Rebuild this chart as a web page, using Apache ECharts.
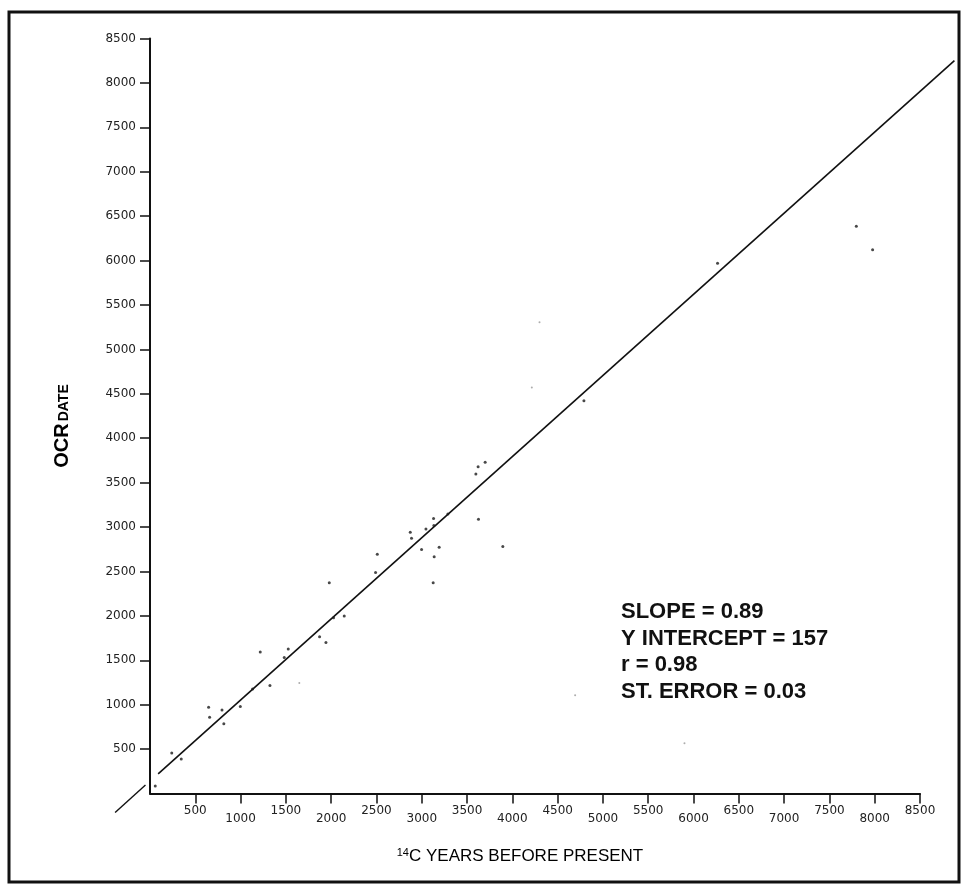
<!DOCTYPE html>
<html>
<head>
<meta charset="utf-8">
<script src="https://cdn.jsdelivr.net/npm/echarts@6/dist/echarts.min.js"></script>
<style>
html, body { margin: 0; padding: 0; background: #fff; }
#chart { width: 962px; height: 886px; }
</style>
</head>
<body>
<div id="chart"></div>
<script>
// tick values on both axes
var axisTicks = [500, 1000, 1500, 2000, 2500, 3000, 3500, 4000, 4500, 5000, 5500, 6000, 6500, 7000, 7500, 8000, 8500];

// samples: 14C age vs OCR date
var c14Years = [240, 345, 647, 658, 795, 815, 997, 1132, 1217, 1324, 1482, 1526, 1872, 1942, 1979, 2026, 2144,
    2490, 2509, 2873, 2887, 2998, 3046, 3130, 3134, 3137, 3126, 3192, 3288, 3626, 3597, 3622, 3700, 3895,
    4790, 6265, 7797, 7977, 58];
var ocrDates = [455, 388, 971, 859, 941, 784, 979, 1177, 1592, 1215, 1530, 1626, 1766, 1700, 2372, 1979, 1997,
    2487, 2693, 2940, 2873, 2746, 2978, 3097, 3018, 2664, 2372, 2772, 3147, 3087, 3596, 3678, 3730, 2780,
    4422, 5971, 6386, 6121, 85];

// faint specks on the scan
var faintX = [1648, 4215, 4300, 4693, 5900];
var faintY = [1245, 4572, 5305, 1106, 567];

// regression line (runs past the last tick) and its stub below the origin
var fitX = [90, 8880];
var fitY = [222, 8250];
var stubX = [-385, -50];
var stubY = [-215, 95];

var statLines = ['SLOPE = 0.89', 'Y INTERCEPT = 157', 'r = 0.98', 'ST. ERROR = 0.03'];

function pairs(xs, ys) {
    return xs.map(function (x, i) { return [x, ys[i]]; });
}

var chart = echarts.init(document.getElementById('chart'));

var ink = '#111';
var tickFont = 'DejaVu Sans';

option = {
    animation: false,
    backgroundColor: '#fff',
    grid: { left: 150, right: 42, top: 38.5, bottom: 92.5 },
    xAxis: {
        type: 'value',
        min: 0,
        max: 8500,
        interval: 500,
        splitLine: { show: false },
        axisLine: { lineStyle: { color: ink, width: 2 } },
        axisTick: { customValues: axisTicks, length: 10, lineStyle: { color: ink, width: 1.5 } },
        axisLabel: {
            customValues: axisTicks,
            margin: 11,
            formatter: function (v) {
                return (v / 500) % 2 === 1 ? '{hi|' + v + '}' : '{lo|' + v + '}';
            },
            rich: {
                hi: { fontFamily: tickFont, fontSize: 12, color: '#222' },
                lo: { fontFamily: tickFont, fontSize: 12, color: '#222', padding: [8, 0, 0, 0] }
            }
        }
    },
    yAxis: {
        type: 'value',
        min: 0,
        max: 8500,
        interval: 500,
        splitLine: { show: false },
        axisLine: { lineStyle: { color: ink, width: 2 } },
        axisTick: { customValues: axisTicks, length: 10, lineStyle: { color: ink, width: 1.5 } },
        axisLabel: {
            customValues: axisTicks,
            margin: 14,
            fontFamily: tickFont,
            fontSize: 12,
            color: '#222',
            formatter: function (v) { return String(v); }
        }
    },
    graphic: [
        {
            type: 'rect',
            silent: true,
            z: -1,
            shape: { x: 9, y: 12, width: 950, height: 870 },
            style: { fill: 'none', stroke: ink, lineWidth: 3 }
        },
        {
            type: 'text',
            x: 62,
            y: 426,
            rotation: Math.PI / 2,
            style: {
                text: '{a|OCR}{b|DATE}',
                align: 'center',
                verticalAlign: 'middle',
                rich: {
                    a: { fontFamily: 'Liberation Sans', fontWeight: 'bold', fontSize: 20, color: ink, verticalAlign: 'bottom' },
                    b: { fontFamily: 'Liberation Sans', fontWeight: 'bold', fontSize: 14, color: ink, verticalAlign: 'bottom', padding: [0, 0, 1, 2] }
                }
            }
        },
        {
            type: 'text',
            x: 520,
            y: 856,
            style: {
                text: '{s|14}{t|C YEARS BEFORE PRESENT}',
                align: 'center',
                verticalAlign: 'middle',
                rich: {
                    s: { fontFamily: 'Liberation Sans', fontSize: 11, color: ink, verticalAlign: 'top' },
                    t: { fontFamily: 'Liberation Sans', fontSize: 17, color: ink }
                }
            }
        },
        {
            type: 'text',
            x: 621,
            y: 599,
            style: {
                text: statLines.join('\n'),
                fontFamily: 'Liberation Sans',
                fontWeight: 'bold',
                fontSize: 22,
                lineHeight: 26.5,
                fill: ink
            }
        }
    ],
    series: [
        {
            type: 'scatter',
            data: pairs(c14Years, ocrDates),
            symbolSize: 3,
            itemStyle: { color: '#1a1a1a' }
        },
        {
            type: 'scatter',
            data: pairs(faintX, faintY),
            symbolSize: 2,
            itemStyle: { color: '#999' }
        }
    ]
};

chart.setOption(option);

// the fit line and its stub leave the plot area, so place them through the chart's own scales
function toPx(xs, ys) {
    return pairs(xs, ys).map(function (p) {
        return chart.convertToPixel({ gridIndex: 0 }, p);
    });
}
var fitPx = toPx(fitX, fitY);
var stubPx = toPx(stubX, stubY);
chart.setOption({
    graphic: option.graphic.concat([
        {
            type: 'polyline',
            silent: true,
            shape: { points: fitPx },
            style: { stroke: ink, lineWidth: 1.6, fill: null }
        },
        {
            type: 'polyline',
            silent: true,
            shape: { points: stubPx },
            style: { stroke: ink, lineWidth: 1.4, fill: null }
        }
    ])
});
</script>
</body>
</html>
